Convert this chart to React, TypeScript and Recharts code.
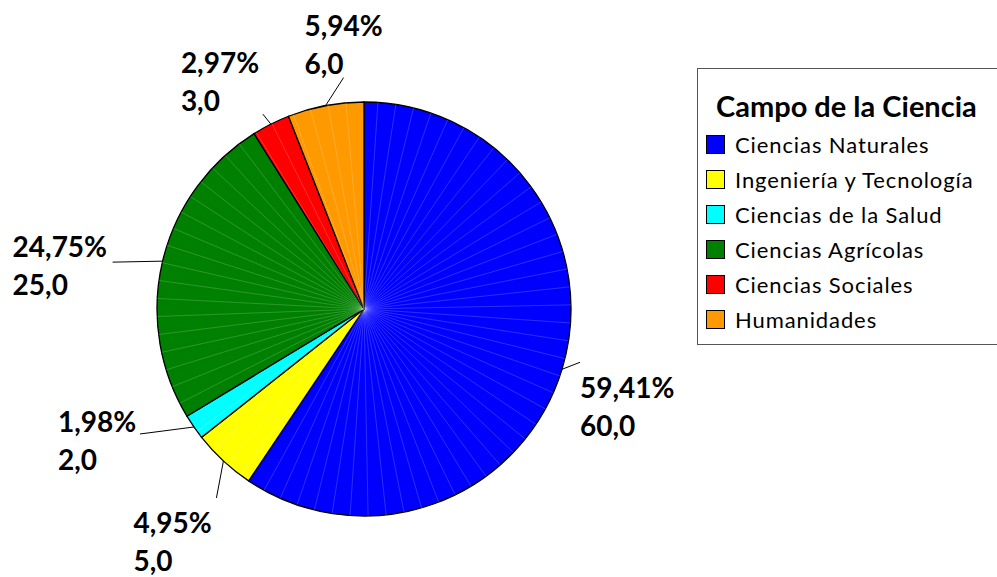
import React from "react";
import { PieChart, Pie, Cell, Legend, Sector } from "recharts";

const categories = [
  "Ciencias Naturales",
  "Ingeniería y Tecnología",
  "Ciencias de la Salud",
  "Ciencias Agrícolas",
  "Ciencias Sociales",
  "Humanidades",
];
const values = [60, 5, 2, 25, 3, 6];
const colors = ["#0000FF", "#FFFF00", "#00FFFF", "#008000", "#FF0000", "#FF9900"];
const legendTitle = "Campo de la Ciencia";

// label layout relative to slice edge point: [lineDx, lineDy, textDx (left edge), baseline1Dy]
const labelLayout: [number, number, number, number][] = [
  [18, -7, 18, 29],
  [-7, 37, -90, 72],
  [-54, 7, -136, 5],
  [-50, 1, -150, -4],
  [-8, -10, -90, -51],
  [18, -28, -21, -70],
];

const data = categories.map((name, i) => ({ name, value: values[i] }));
const total = values.reduce((a, b) => a + b, 0);

const RAD = Math.PI / 180;
const fmt = (n: number, d: number) => n.toFixed(d).replace(".", ",");

const renderLabel = (props: any) => {
  const { cx, cy, midAngle, outerRadius, index, value } = props;
  const ex = cx + outerRadius * Math.cos(-midAngle * RAD);
  const ey = cy + outerRadius * Math.sin(-midAngle * RAD);
  const [ldx, ldy, tdx, tdy] = labelLayout[index];
  const pct = fmt((value / total) * 100, 2) + "%";
  return (
    <g key={`lbl-${index}`}>
      <line x1={ex} y1={ey} x2={ex + ldx} y2={ey + ldy} stroke="#000" strokeWidth={1} />
      <text
        x={ex + tdx}
        y={ey + tdy}
        textAnchor="start"
        fontFamily="Lato, 'Open Sans', sans-serif"
        fontWeight={700}
        fontSize={28}
        fill="#000"
      >
        <tspan x={ex + tdx}>{pct}</tspan>
        <tspan x={ex + tdx} dy={38}>{fmt(value, 1)}</tspan>
      </text>
    </g>
  );
};

const renderShape = (props: any) => {
  const { cx, cy, outerRadius, startAngle, endAngle, fill } = props;
  const lines: React.ReactNode[] = [];
  const step = 5;
  const lo = Math.min(startAngle, endAngle);
  const hi = Math.max(startAngle, endAngle);
  for (let a = lo + step; a < hi - 0.5; a += step) {
    lines.push(
      <line
        key={a}
        x1={cx}
        y1={cy}
        x2={cx + outerRadius * Math.cos(-a * RAD)}
        y2={cy + outerRadius * Math.sin(-a * RAD)}
        stroke="#ffffff"
        strokeOpacity={0.3}
        strokeWidth={0.6}
      />
    );
  }
  return (
    <g>
      <Sector {...props} fill={fill} stroke="#000" strokeWidth={1.3} />
      {lines}
    </g>
  );
};

const renderLegend = () => (
  <div
    style={{
      width: 310,
      height: 277,
      border: "1.5px solid #555",
      boxSizing: "border-box",
      background: "#fff",
      fontFamily: "Lato, 'Open Sans', sans-serif",
      paddingLeft: 8,
      color: "#000",
    }}
  >
    <div style={{ fontWeight: 700, fontSize: 29, marginTop: 20, marginLeft: 10, lineHeight: "34px", marginBottom: 4 }}>
      {legendTitle}
    </div>
    {categories.map((c, i) => (
      <div key={c} style={{ display: "flex", alignItems: "center", height: 35, fontSize: 22, letterSpacing: 0.9 }}>
        <span
          style={{
            display: "inline-block",
            width: 17,
            height: 17,
            background: colors[i],
            border: "1px solid #000",
            marginRight: 10,
          }}
        />
        <span>{c}</span>
      </div>
    ))}
  </div>
);

export default function App() {
  return (
    <div style={{ position: "absolute", left: 0, top: 0, width: 997, height: 577, background: "#fff" }}>
      <PieChart width={997} height={577} margin={{ top: 0, right: 0, bottom: 0, left: 0 }}>
        <Pie
          data={data}
          dataKey="value"
          nameKey="name"
          cx={364}
          cy={309}
          outerRadius={207}
          startAngle={90}
          endAngle={-270}
          isAnimationActive={false}
          label={renderLabel}
          labelLine={false}
          shape={renderShape}
        >
          {data.map((d, i) => (
            <Cell key={d.name} fill={colors[i]} />
          ))}
        </Pie>
        <Legend
          content={renderLegend}
          wrapperStyle={{ position: "absolute", left: 697, top: 68, width: 310 }}
        />
      </PieChart>
    </div>
  );
}
